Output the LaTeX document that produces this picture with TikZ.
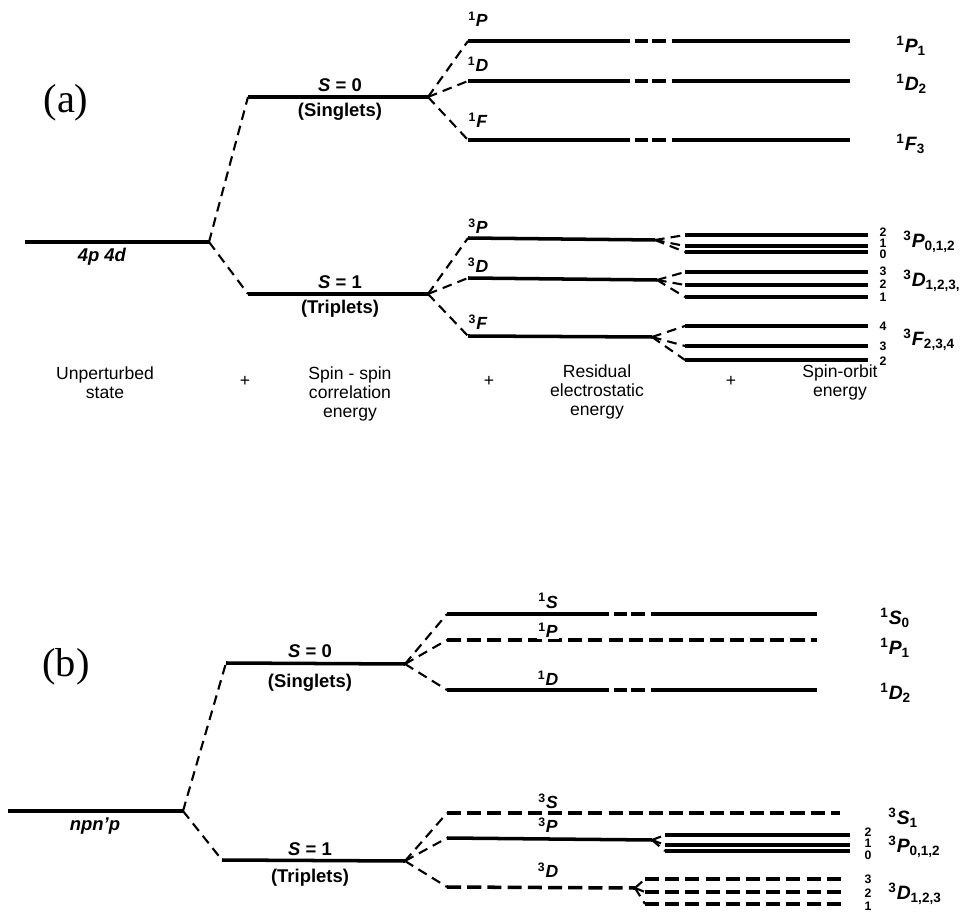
\documentclass[tikz,border=0pt]{standalone}
\usepackage{fontspec}
\setmainfont{Liberation Serif}
\setsansfont{Liberation Sans}
\usetikzlibrary{calc}
\newcommand{\trm}[3]{\textsuperscript{#1}\textit{#2}\textsubscript{#3}}
\tikzset{
  level/.style={line width=2pt},
  brk/.style={level, dash pattern=on 92pt off 3pt on 7.5pt off 2.5pt on 7.5pt off 3.5pt on 300pt},
  dlevel/.style={level, dash pattern=on 8pt off 3.5pt},
  link/.style={line width=1.2pt, dash pattern=on 5.5pt off 3.5pt},
  term/.style={font=\sffamily\bfseries\fontsize{10}{12}\selectfont, inner sep=0pt},
  fin/.style={font=\sffamily\bfseries\fontsize{11}{13}\selectfont, anchor=west, inner sep=0pt},
  spin/.style={font=\sffamily\bfseries\fontsize{10.5}{12}\selectfont, inner sep=0pt},
  jnum/.style={font=\sffamily\bfseries\fontsize{7}{8}\selectfont, inner sep=0pt},
  stage/.style={font=\sffamily\fontsize{10}{11}\selectfont, align=center, anchor=north, inner sep=0pt},
  panel/.style={font=\fontsize{23}{26}\selectfont, inner sep=0pt},
}
\begin{document}
\begin{tikzpicture}[x=0.02cm, y=-0.02cm]
  \useasboundingbox (0,0) rectangle (967,918);
  % ---------- (a) 4p4d ----------
  \node[panel] (pa) at (66,103) {(a)};
  \coordinate (aU) at (25,242);
  \coordinate (aX) at (209,242);
  \draw[level] (aU) -- (aX);
  \node[spin] (aUt) at (102,257) {\textit{4p 4d}};
  % spin-spin correlation
  \coordinate (aS0a) at (248,97);
  \coordinate (aS0b) at (428,97);
  \coordinate (aS1a) at (248,294);
  \coordinate (aS1b) at (428,294);
  \draw[link] (aX) -- (aS0a);
  \draw[link] (aX) -- (aS1a);
  \draw[level] (aS0a) -- (aS0b);
  \draw[level] (aS1a) -- (aS1b);
  \node[spin] (aS0t) at (340,85) {\textit{S} = 0};
  \node[spin] (aS0n) at (340,112) {(Singlets)};
  \node[spin] (aS1t) at (340,282) {\textit{S} = 1};
  \node[spin] (aS1n) at (340,309) {(Triplets)};
  % residual electrostatic, singlets
  \coordinate (a1P) at (468,41);
  \coordinate (a1D) at (468,81);
  \coordinate (a1F) at (468,140);
  \draw[link] (aS0b) -- (a1P);
  \draw[link] (aS0b) -- (a1D);
  \draw[link] (aS0b) -- (a1F);
  \draw[brk] (a1P) -- +(382,0);
  \draw[brk] (a1D) -- +(382,0);
  \draw[brk] (a1F) -- +(382,0);
  \node[term] (a1Pt) at (478,19) {\textsuperscript{1}\textit{P}};
  \node[term] (a1Dt) at (478,64) {\textsuperscript{1}\textit{D}};
  \node[term] (a1Ft) at (478,120) {\textsuperscript{1}\textit{F}};
  \node[fin] (a1Pf) at (896,46) {\trm{1}{P}{1}};
  \node[fin] (a1Df) at (896,84) {\trm{1}{D}{2}};
  \node[fin] (a1Ff) at (896,144) {\trm{1}{F}{3}};
  % residual electrostatic, triplets
  \coordinate (a3P) at (468,238);
  \coordinate (a3D) at (468,278);
  \coordinate (a3F) at (468,336);
  \draw[link] (aS1b) -- (a3P);
  \draw[link] (aS1b) -- (a3D);
  \draw[link] (aS1b) -- (a3F);
  \node[term] (a3Pt) at (478,226) {\textsuperscript{3}\textit{P}};
  \node[term] (a3Dt) at (478,265) {\textsuperscript{3}\textit{D}};
  \node[term] (a3Ft) at (478,322) {\textsuperscript{3}\textit{F}};
  % spin-orbit, 3P
  \coordinate (a3Pk) at (655,240);
  \draw[level] (a3P) -- (a3Pk);
  \coordinate (a3P2) at (685,235);
  \coordinate (a3P1) at (685,246);
  \coordinate (a3P0) at (685,252);
  \draw[link] (a3Pk) -- (a3P2);
  \draw[link] (a3Pk) -- (a3P1);
  \draw[link] (a3Pk) -- (a3P0);
  \draw[level] (a3P2) -- +(183,0);
  \draw[level] (a3P1) -- +(183,0);
  \draw[level] (a3P0) -- +(183,0);
  \node[jnum] (aJP2) at (883,232) {2};
  \node[jnum] (aJP1) at (883,243) {1};
  \node[jnum] (aJP0) at (883,254) {0};
  \node[fin] (a3Pf) at (903,242) {\trm{3}{P}{0,1,2}};
  % spin-orbit, 3D
  \coordinate (a3Dk) at (657,280);
  \draw[level] (a3D) -- (a3Dk);
  \coordinate (a3D3) at (685,272);
  \coordinate (a3D2) at (685,285);
  \coordinate (a3D1) at (685,297);
  \draw[link] (a3Dk) -- (a3D3);
  \draw[link] (a3Dk) -- (a3D2);
  \draw[link] (a3Dk) -- (a3D1);
  \draw[level] (a3D3) -- +(183,0);
  \draw[level] (a3D2) -- +(183,0);
  \draw[level] (a3D1) -- +(183,0);
  \node[jnum] (aJD3) at (883,271) {3};
  \node[jnum] (aJD2) at (883,284) {2};
  \node[jnum] (aJD1) at (883,297) {1};
  \node[fin] (a3Df) at (903,281) {\trm{3}{D}{1,2,3,}};
  % spin-orbit, 3F
  \coordinate (a3Fk) at (652,337);
  \draw[level] (a3F) -- (a3Fk);
  \coordinate (a3F4) at (685,326);
  \coordinate (a3F3) at (685,346);
  \coordinate (a3F2) at (685,360);
  \draw[link] (a3Fk) -- (a3F4);
  \draw[link] (a3Fk) -- (a3F3);
  \draw[link] (a3Fk) -- (a3F2);
  \draw[level] (a3F4) -- +(183,0);
  \draw[level] (a3F3) -- +(183,0);
  \draw[level] (a3F2) -- +(183,0);
  \node[jnum] (aJF4) at (883,326) {4};
  \node[jnum] (aJF3) at (883,346) {3};
  \node[jnum] (aJF2) at (883,361) {2};
  \node[fin] (a3Ff) at (903,340) {\trm{3}{F}{2,3,4}};
  % contributions
  \node[stage] (st1) at (105,366) {Unperturbed\\state};
  \node[stage] (pl1) at (245,376) {+};
  \node[stage] (st2) at (350,366) {Spin - spin\\correlation\\energy};
  \node[stage] (pl2) at (489,376) {+};
  \node[stage] (st3) at (597,364) {Residual\\electrostatic\\energy};
  \node[stage] (pl3) at (731,376) {+};
  \node[stage] (st4) at (840,364) {Spin-orbit\\energy};
  % ---------- (b) npn'p ----------
  \node[panel] (pb) at (66,667) {(b)};
  \coordinate (bU) at (8,811);
  \coordinate (bX) at (183,811);
  \draw[level] (bU) -- (bX);
  \node[spin] (bUt) at (95,826) {\textit{npn'p}};
  % spin-spin correlation
  \coordinate (bS0a) at (226,663);
  \coordinate (bS0b) at (405,664);
  \coordinate (bS1a) at (222,860);
  \coordinate (bS1b) at (405,861);
  \draw[link] (bX) -- (bS0a);
  \draw[link] (bX) -- (bS1a);
  \draw[level] (bS0a) -- (bS0b);
  \draw[level] (bS1a) -- (bS1b);
  \node[spin] (bS0t) at (310,651) {\textit{S} = 0};
  \node[spin] (bS0n) at (310,683) {(Singlets)};
  \node[spin] (bS1t) at (310,849) {\textit{S} = 1};
  \node[spin] (bS1n) at (310,878) {(Triplets)};
  % residual electrostatic, singlets
  \coordinate (b1S) at (447,614);
  \coordinate (b1P) at (447,640);
  \coordinate (b1D) at (447,690);
  \draw[link] (bS0b) -- (b1S);
  \draw[link] (bS0b) -- (b1P);
  \draw[link] (bS0b) -- (b1D);
  \draw[brk] (b1S) -- +(370,0);
  \draw[dlevel] (b1P) -- +(370,0);
  \draw[brk] (b1D) -- +(370,0);
  \node[term] (b1St) at (548,601) {\textsuperscript{1}\textit{S}};
  \node[term, fill=white, inner sep=1pt] (b1Pt) at (548,630) {\textsuperscript{1}\textit{P}};
  \node[term] (b1Dt) at (548,678) {\textsuperscript{1}\textit{D}};
  \node[fin] (b1Sf) at (880,618) {\trm{1}{S}{0}};
  \node[fin] (b1Pf) at (880,648) {\trm{1}{P}{1}};
  \node[fin] (b1Df) at (880,693) {\trm{1}{D}{2}};
  % residual electrostatic, triplets
  \coordinate (b3S) at (447,813);
  \coordinate (b3P) at (447,838);
  \coordinate (b3D) at (447,887);
  \draw[link] (bS1b) -- (b3S);
  \draw[link] (bS1b) -- (b3P);
  \draw[link] (bS1b) -- (b3D);
  \draw[dlevel] (b3S) -- +(393,0);
  \node[term] (b3St) at (548,801) {\textsuperscript{3}\textit{S}};
  \node[term] (b3Pt) at (548,825) {\textsuperscript{3}\textit{P}};
  \node[term] (b3Dt) at (548,870) {\textsuperscript{3}\textit{D}};
  \node[fin] (b3Sf) at (888,818) {\trm{3}{S}{1}};
  % spin-orbit, 3P
  \coordinate (b3Pk) at (652,840);
  \draw[level] (b3P) -- (b3Pk);
  \coordinate (b3P2) at (665,835);
  \coordinate (b3P1) at (665,845);
  \coordinate (b3P0) at (665,851);
  \draw[link] (b3Pk) -- (b3P2);
  \draw[link] (b3Pk) -- (b3P1);
  \draw[link] (b3Pk) -- (b3P0);
  \draw[level] (b3P2) -- +(185,0);
  \draw[level] (b3P1) -- +(185,0);
  \draw[level] (b3P0) -- +(185,0);
  \node[jnum] (bJP2) at (868,832) {2};
  \node[jnum] (bJP1) at (868,843) {1};
  \node[jnum] (bJP0) at (868,855) {0};
  \node[fin] (b3Pf) at (888,847) {\trm{3}{P}{0,1,2}};
  % spin-orbit, 3D
  \coordinate (b3Dk) at (635,888);
  \draw[dlevel] (b3D) -- (b3Dk);
  \coordinate (b3D3) at (645,879);
  \coordinate (b3D2) at (645,892);
  \coordinate (b3D1) at (645,904);
  \draw[link] (b3Dk) -- (b3D3);
  \draw[link] (b3Dk) -- (b3D2);
  \draw[link] (b3Dk) -- (b3D1);
  \draw[dlevel] (b3D3) -- +(202,0);
  \draw[dlevel] (b3D2) -- +(202,0);
  \draw[dlevel] (b3D1) -- +(202,0);
  \node[jnum] (bJD3) at (868,879) {3};
  \node[jnum] (bJD2) at (868,893) {2};
  \node[jnum] (bJD1) at (868,906) {1};
  \node[fin] (b3Df) at (888,894) {\trm{3}{D}{1,2,3}};
\end{tikzpicture}
\end{document}
